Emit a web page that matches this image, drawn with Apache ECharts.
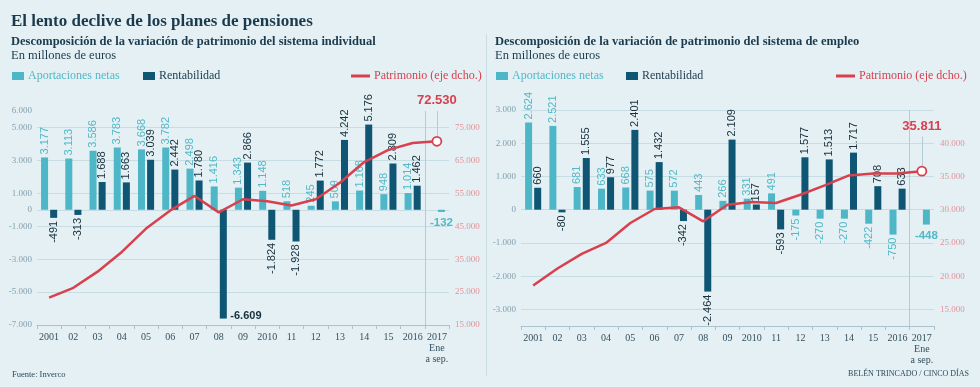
<!DOCTYPE html>
<html>
<head>
<meta charset="utf-8">
<script src="https://cdn.jsdelivr.net/npm/echarts@6/dist/echarts.min.js"></script>
<style>
html,body{margin:0;padding:0;background:#e4f0f3;}
#chart{width:980px;height:387px;}
</style>
</head>
<body>
<div id="chart"></div>
<script>
// ---------- data ----------
const categories = ['2001','02','03','04','05','06','07','08','09','2010','11','12','13','14','15','2016','2017'];
const categoryLabels = ['2001','02','03','04','05','06','07','08','09','2010','11','12','13','14','15','2016','2017\nEne\na sep.'];

const indAportaciones = [3177, 3113, 3586, 3783, 3668, 3782, 2498, 1416, 1343, 1148, 518, 245, 509, 1168, 948, 1014, null];
const indAportaciones2017 = [null, null, null, null, null, null, null, null, null, null, null, null, null, null, null, null, -132];
const indRentabilidad = [-491, -313, 1688, 1663, 3039, 2442, 1780, -6609, 2866, -1824, -1928, 1772, 4242, 5176, 2809, 1462, null];
const indPatrimonio = [23300, 26300, 31200, 37200, 44300, 49800, 54200, 49200, 53200, 52600, 51300, 53200, 58200, 64500, 68200, 70300, 70800];

const empAportaciones = [2624, 2521, 681, 633, 668, 575, 572, 443, 266, 331, 491, -175, -270, -270, -422, -750, null];
const empAportaciones2017 = [null, null, null, null, null, null, null, null, null, null, null, null, null, null, null, null, -448];
const empRentabilidad = [660, -80, 1555, 977, 2401, 1432, -342, -2464, 2109, 157, -593, 1577, 1513, 1717, 708, 633, null];
const empPatrimonio = [18600, 21150, 23350, 25000, 28000, 30100, 30350, 28250, 30750, 31150, 31000, 32250, 33650, 35150, 35450, 35450, 35800];

const indLeftLabels = [6000, 5000, 3000, 1000, 0, -1000, -3000, -5000, -7000];
const indLeftLines = [5000, 3000, 1000, 0, -1000, -3000, -5000];
const indRightLabels = [15000, 25000, 35000, 45000, 55000, 65000, 75000];
const empLeftLabels = [3000, 2000, 1000, 0, -1000, -2000, -3000];
const empRightLabels = [15000, 20000, 25000, 30000, 35000, 40000];
const endLabels = ['72.530', '35.811'];

// ---------- style ----------
const C_CYAN = '#4db7c7';
const C_DARK = '#0e5674';
const C_RED = '#d8404e';
const C_TEXT = '#1c3a4d';
const C_GRID = '#c7dce3';
const C_LAB_CYAN = '#52b8c7';
const C_LAB_DARK = '#182f3c';
const SERIF = "'Liberation Serif', 'DejaVu Serif', serif";
const NARROW = "'Liberation Sans Narrow', 'Liberation Sans', Arial, sans-serif";
const SANS = "'Liberation Sans', Arial, sans-serif";

function fmt(v) {
  if (v === null || v === undefined) return '';
  const s = String(Math.abs(v)).replace(/\B(?=(\d{3})+(?!\d))/g, '.');
  return (v < 0 ? '-' : '') + s;
}

function barItems(values, special) {
  return values.map((v, i) => {
    if (v === null) return '-';
    const item = { value: v };
    if (special && special[i]) {
      item.label = special[i];
    } else {
      item.label = v < 0 ? { position: 'bottom', align: 'right' } : { position: 'top', align: 'left' };
    }
    return item;
  });
}

function barLabel(color) {
  return {
    show: true, rotate: 90, verticalAlign: 'middle', distance: 3,
    fontSize: 11, fontFamily: NARROW, color: color,
    formatter: p => fmt(p.value)
  };
}

function xAxisCfg(grid) {
  return {
    type: 'category', gridIndex: grid, data: categories, boundaryGap: true,
    axisLine: { show: true, onZero: false, lineStyle: { color: '#aac3ce', width: 1 } },
    axisTick: { show: true, interval: 0, length: 4, lineStyle: { color: '#aac3ce' } },
    axisLabel: {
      interval: 0, margin: 7, color: '#34505f', fontSize: 10, fontFamily: SERIF, lineHeight: 11,
      formatter: (v, i) => categoryLabels[i]
    },
    splitLine: { show: true, interval: (i) => i === 0 || i === 16, showMinLine: false, showMaxLine: false,
      lineStyle: { color: '#b3cbd5', width: 1 } }
  };
}

function yAxisCfg(grid, min, max, labels, lines, pos, color) {
  return {
    type: 'value', gridIndex: grid, min: min, max: max, position: pos,
    axisLine: { show: false },
    axisTick: { show: false, customValues: lines || labels },
    axisLabel: { customValues: labels, color: color, fontSize: 9, fontFamily: SERIF, margin: pos === 'left' ? 5 : 6, formatter: v => fmt(v) },
    splitLine: { show: !!lines, lineStyle: { color: C_GRID, width: 1 } }
  };
}

function endPoint(values, text, dist) {
  return values.map((v, i) => {
    if (i !== values.length - 1) return v;
    return {
      value: v, symbol: 'circle', symbolSize: 9,
      itemStyle: { color: '#ffffff', borderColor: C_RED, borderWidth: 1.8 },
      label: { show: true, position: 'top', distance: dist, formatter: text,
        color: C_RED, fontSize: 13, fontWeight: 'bold', fontFamily: SANS }
    };
  });
}

function legendItem(left, name, color, lineIcon) {
  return {
    left: left, top: 70, padding: 0, itemGap: 0,
    icon: 'rect', itemWidth: lineIcon ? 19 : 12, itemHeight: lineIcon ? 3 : 8,
    selectedMode: false,
    data: [{ name: name, textStyle: { color: color } }],
    textStyle: { fontFamily: SERIF, fontSize: 12, padding: [0, 0, 0, -1] }
  };
}

const special2008 = {};
special2008[7] = { position: 'bottom', rotate: 0, align: 'left', verticalAlign: 'bottom', distance: 0,
  offset: [7, 3], fontSize: 11, fontWeight: 'bold', fontFamily: SANS, color: C_LAB_DARK };

const label2017 = {
  position: 'bottom', rotate: 0, align: 'center', verticalAlign: 'top', distance: 5,
  fontSize: 11.5, fontWeight: 'bold', fontFamily: SANS, color: C_LAB_CYAN
};
const special2017 = {}; special2017[16] = label2017;

const option = {
  backgroundColor: '#e4f0f3',
  animation: false,
  title: [
    { text: 'El lento declive de los planes de pensiones', left: 11, top: 13, padding: 0,
      textStyle: { color: C_TEXT, fontSize: 17, fontWeight: 'bold', fontFamily: SERIF } },
    { text: 'Descomposición de la variación de patrimonio del sistema individual', left: 11, top: 35, padding: 0,
      textStyle: { color: C_TEXT, fontSize: 12.5, fontWeight: 'bold', fontFamily: SERIF } },
    { text: 'En millones de euros', left: 11, top: 49, padding: 0,
      textStyle: { color: C_TEXT, fontSize: 12.5, fontWeight: 'normal', fontFamily: SERIF } },
    { text: 'Descomposición de la variación de patrimonio del sistema de empleo', left: 495, top: 35, padding: 0,
      textStyle: { color: C_TEXT, fontSize: 12.5, fontWeight: 'bold', fontFamily: SERIF } },
    { text: 'En millones de euros', left: 495, top: 49, padding: 0,
      textStyle: { color: C_TEXT, fontSize: 12.5, fontWeight: 'normal', fontFamily: SERIF } },
    { text: 'Fuente: Inverco', left: 12, top: 370, padding: 0,
      textStyle: { color: '#2d4a5c', fontSize: 8.5, fontWeight: 'normal', fontFamily: SERIF } },
    { text: 'BELÉN TRINCADO / CINCO DÍAS', right: 11, top: 370, padding: 0,
      textStyle: { color: '#2d4a5c', fontSize: 8, fontWeight: 'normal', fontFamily: SERIF } }
  ],
  legend: [
    legendItem(12, 'Aportaciones netas', C_LAB_CYAN, false),
    legendItem(143, 'Rentabilidad', C_TEXT, false),
    legendItem(351, 'Patrimonio (eje dcho.)', C_RED, true),
    legendItem(496, 'Aportaciones netas', C_LAB_CYAN, false),
    legendItem(626, 'Rentabilidad', C_TEXT, false),
    legendItem(836, 'Patrimonio (eje dcho.)', C_RED, true)
  ],
  graphic: [
    { type: 'rect', left: 486, top: 34, shape: { width: 1, height: 342 }, style: { fill: '#c9dce3' }, silent: true }
  ],
  grid: [
    { left: 37, width: 412, top: 111, height: 214 },
    { left: 521, width: 413, top: 110, height: 216 }
  ],
  xAxis: [xAxisCfg(0), xAxisCfg(1)],
  yAxis: [
    yAxisCfg(0, -7000, 6000, indLeftLabels, indLeftLines, 'left', '#85a1b1'),
    yAxisCfg(0, 15000, 80000, indRightLabels, null, 'right', '#e3939b'),
    yAxisCfg(1, -3500, 3000, empLeftLabels, empLeftLabels, 'left', '#85a1b1'),
    yAxisCfg(1, 12500, 45000, empRightLabels, null, 'right', '#e3939b')
  ],
  series: [
    { name: 'Aportaciones netas', type: 'bar', xAxisIndex: 0, yAxisIndex: 0,
      data: barItems(indAportaciones), itemStyle: { color: C_CYAN }, barWidth: 7, barGap: '30%',
      label: barLabel(C_LAB_CYAN) },
    { name: 'Rentabilidad', type: 'bar', xAxisIndex: 0, yAxisIndex: 0, stack: 'indR',
      data: barItems(indRentabilidad, special2008), itemStyle: { color: C_DARK }, barWidth: 7, barGap: '30%',
      label: barLabel(C_LAB_DARK) },
    { name: 'Aportaciones netas', type: 'bar', xAxisIndex: 0, yAxisIndex: 0, stack: 'indR',
      data: barItems(indAportaciones2017, special2017), itemStyle: { color: C_CYAN }, barWidth: 7, barGap: '30%',
      label: barLabel(C_LAB_CYAN) },
    { name: 'Patrimonio (eje dcho.)', type: 'line', xAxisIndex: 0, yAxisIndex: 1,
      data: endPoint(indPatrimonio, endLabels[0], 29), symbol: 'none', showSymbol: true,
      lineStyle: { color: C_RED, width: 2.5 }, itemStyle: { color: C_RED }, z: 5,
      markLine: { silent: true, symbol: 'none', z: 1, label: { show: false },
        lineStyle: { color: '#b3cbd5', width: 1, type: 'solid' },
        data: [[{ coord: ['2017', indPatrimonio[16] + 1500] }, { coord: ['2017', 80000] }]] } },

    { name: 'Aportaciones netas', type: 'bar', xAxisIndex: 1, yAxisIndex: 2,
      data: barItems(empAportaciones), itemStyle: { color: C_CYAN }, barWidth: 7, barGap: '30%',
      label: barLabel(C_LAB_CYAN) },
    { name: 'Rentabilidad', type: 'bar', xAxisIndex: 1, yAxisIndex: 2, stack: 'empR',
      data: barItems(empRentabilidad), itemStyle: { color: C_DARK }, barWidth: 7, barGap: '30%',
      label: barLabel(C_LAB_DARK) },
    { name: 'Aportaciones netas', type: 'bar', xAxisIndex: 1, yAxisIndex: 2, stack: 'empR',
      data: barItems(empAportaciones2017, special2017), itemStyle: { color: C_CYAN }, barWidth: 7, barGap: '30%',
      label: barLabel(C_LAB_CYAN) },
    { name: 'Patrimonio (eje dcho.)', type: 'line', xAxisIndex: 1, yAxisIndex: 3,
      data: endPoint(empPatrimonio, endLabels[1], 33), symbol: 'none', showSymbol: true,
      lineStyle: { color: C_RED, width: 2.5 }, itemStyle: { color: C_RED }, z: 5,
      markLine: { silent: true, symbol: 'none', z: 1, label: { show: false },
        lineStyle: { color: '#b3cbd5', width: 1, type: 'solid' },
        data: [[{ coord: ['2017', empPatrimonio[16] + 800] }, { coord: ['2017', 41000] }]] } }
  ]
};

const chart = echarts.init(document.getElementById('chart'), null, { renderer: 'canvas' });
chart.setOption(option);
</script>
</body>
</html>
